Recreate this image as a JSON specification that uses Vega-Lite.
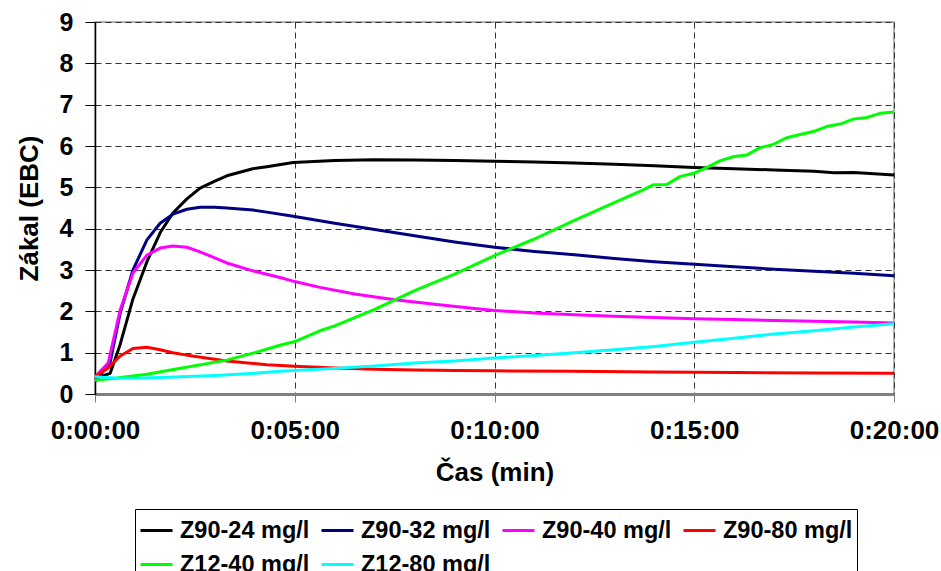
{
  "$schema": "https://vega.github.io/schema/vega-lite/v6.json",
  "width": 799,
  "height": 372,
  "autosize": {"type": "none"},
  "padding": {"left": 95, "top": 22, "right": 47, "bottom": 177},
  "background": "white",
  "config": {
    "font": "Liberation Sans",
    "view": {"stroke": "#999999", "strokeWidth": 1.5}
  },
  "data": {
    "values": [
      {"s": "Z90-24 mg/l", "t": 0, "v": 0.38},
      {"s": "Z90-24 mg/l", "t": 0.13, "v": 0.42},
      {"s": "Z90-24 mg/l", "t": 0.38, "v": 0.5},
      {"s": "Z90-24 mg/l", "t": 0.63, "v": 1.2},
      {"s": "Z90-24 mg/l", "t": 0.95, "v": 2.3},
      {"s": "Z90-24 mg/l", "t": 1.3, "v": 3.2},
      {"s": "Z90-24 mg/l", "t": 1.63, "v": 3.9},
      {"s": "Z90-24 mg/l", "t": 1.95, "v": 4.38},
      {"s": "Z90-24 mg/l", "t": 2.3, "v": 4.72},
      {"s": "Z90-24 mg/l", "t": 2.63, "v": 4.98},
      {"s": "Z90-24 mg/l", "t": 3.0, "v": 5.15},
      {"s": "Z90-24 mg/l", "t": 3.3, "v": 5.28},
      {"s": "Z90-24 mg/l", "t": 3.95, "v": 5.45},
      {"s": "Z90-24 mg/l", "t": 4.3, "v": 5.5},
      {"s": "Z90-24 mg/l", "t": 4.96, "v": 5.6},
      {"s": "Z90-24 mg/l", "t": 6, "v": 5.65},
      {"s": "Z90-24 mg/l", "t": 7, "v": 5.67},
      {"s": "Z90-24 mg/l", "t": 8, "v": 5.66},
      {"s": "Z90-24 mg/l", "t": 9, "v": 5.65},
      {"s": "Z90-24 mg/l", "t": 10, "v": 5.63},
      {"s": "Z90-24 mg/l", "t": 11, "v": 5.61},
      {"s": "Z90-24 mg/l", "t": 12, "v": 5.59},
      {"s": "Z90-24 mg/l", "t": 13, "v": 5.56},
      {"s": "Z90-24 mg/l", "t": 14, "v": 5.52},
      {"s": "Z90-24 mg/l", "t": 15, "v": 5.48},
      {"s": "Z90-24 mg/l", "t": 16, "v": 5.45},
      {"s": "Z90-24 mg/l", "t": 17, "v": 5.42},
      {"s": "Z90-24 mg/l", "t": 18, "v": 5.39},
      {"s": "Z90-24 mg/l", "t": 18.5, "v": 5.35},
      {"s": "Z90-24 mg/l", "t": 19, "v": 5.36},
      {"s": "Z90-24 mg/l", "t": 20, "v": 5.3},

      {"s": "Z90-32 mg/l", "t": 0, "v": 0.3},
      {"s": "Z90-32 mg/l", "t": 0.13, "v": 0.45},
      {"s": "Z90-32 mg/l", "t": 0.38, "v": 0.77},
      {"s": "Z90-32 mg/l", "t": 0.63, "v": 1.96},
      {"s": "Z90-32 mg/l", "t": 0.95, "v": 3.0},
      {"s": "Z90-32 mg/l", "t": 1.3, "v": 3.73},
      {"s": "Z90-32 mg/l", "t": 1.63, "v": 4.13},
      {"s": "Z90-32 mg/l", "t": 1.95, "v": 4.35},
      {"s": "Z90-32 mg/l", "t": 2.3, "v": 4.47},
      {"s": "Z90-32 mg/l", "t": 2.63, "v": 4.52},
      {"s": "Z90-32 mg/l", "t": 3.0, "v": 4.52},
      {"s": "Z90-32 mg/l", "t": 3.3, "v": 4.5},
      {"s": "Z90-32 mg/l", "t": 3.95, "v": 4.45},
      {"s": "Z90-32 mg/l", "t": 4.3, "v": 4.4},
      {"s": "Z90-32 mg/l", "t": 4.96, "v": 4.3},
      {"s": "Z90-32 mg/l", "t": 6, "v": 4.13},
      {"s": "Z90-32 mg/l", "t": 7, "v": 3.98},
      {"s": "Z90-32 mg/l", "t": 8, "v": 3.83},
      {"s": "Z90-32 mg/l", "t": 9, "v": 3.68},
      {"s": "Z90-32 mg/l", "t": 10, "v": 3.55},
      {"s": "Z90-32 mg/l", "t": 11, "v": 3.45},
      {"s": "Z90-32 mg/l", "t": 12, "v": 3.37},
      {"s": "Z90-32 mg/l", "t": 13, "v": 3.28},
      {"s": "Z90-32 mg/l", "t": 14, "v": 3.2},
      {"s": "Z90-32 mg/l", "t": 15, "v": 3.14},
      {"s": "Z90-32 mg/l", "t": 16, "v": 3.08},
      {"s": "Z90-32 mg/l", "t": 17, "v": 3.02},
      {"s": "Z90-32 mg/l", "t": 18, "v": 2.97},
      {"s": "Z90-32 mg/l", "t": 19, "v": 2.92},
      {"s": "Z90-32 mg/l", "t": 20, "v": 2.86},

      {"s": "Z90-40 mg/l", "t": 0, "v": 0.4},
      {"s": "Z90-40 mg/l", "t": 0.13, "v": 0.55},
      {"s": "Z90-40 mg/l", "t": 0.33, "v": 0.75},
      {"s": "Z90-40 mg/l", "t": 0.63, "v": 2.03},
      {"s": "Z90-40 mg/l", "t": 0.95, "v": 2.93},
      {"s": "Z90-40 mg/l", "t": 1.3, "v": 3.36},
      {"s": "Z90-40 mg/l", "t": 1.63, "v": 3.53},
      {"s": "Z90-40 mg/l", "t": 1.95, "v": 3.58},
      {"s": "Z90-40 mg/l", "t": 2.3, "v": 3.55},
      {"s": "Z90-40 mg/l", "t": 2.63, "v": 3.44},
      {"s": "Z90-40 mg/l", "t": 3.3, "v": 3.17},
      {"s": "Z90-40 mg/l", "t": 3.95, "v": 2.98},
      {"s": "Z90-40 mg/l", "t": 4.63, "v": 2.82},
      {"s": "Z90-40 mg/l", "t": 5.0, "v": 2.72},
      {"s": "Z90-40 mg/l", "t": 5.63, "v": 2.58},
      {"s": "Z90-40 mg/l", "t": 6.5, "v": 2.42},
      {"s": "Z90-40 mg/l", "t": 7.5, "v": 2.28},
      {"s": "Z90-40 mg/l", "t": 8.5, "v": 2.17},
      {"s": "Z90-40 mg/l", "t": 9.5, "v": 2.07},
      {"s": "Z90-40 mg/l", "t": 10, "v": 2.02},
      {"s": "Z90-40 mg/l", "t": 11, "v": 1.96},
      {"s": "Z90-40 mg/l", "t": 12, "v": 1.92},
      {"s": "Z90-40 mg/l", "t": 13, "v": 1.88},
      {"s": "Z90-40 mg/l", "t": 14, "v": 1.85},
      {"s": "Z90-40 mg/l", "t": 15, "v": 1.82},
      {"s": "Z90-40 mg/l", "t": 16, "v": 1.8},
      {"s": "Z90-40 mg/l", "t": 17, "v": 1.78},
      {"s": "Z90-40 mg/l", "t": 18, "v": 1.76},
      {"s": "Z90-40 mg/l", "t": 19, "v": 1.74},
      {"s": "Z90-40 mg/l", "t": 20, "v": 1.72},

      {"s": "Z90-80 mg/l", "t": 0, "v": 0.42},
      {"s": "Z90-80 mg/l", "t": 0.13, "v": 0.5},
      {"s": "Z90-80 mg/l", "t": 0.33, "v": 0.63},
      {"s": "Z90-80 mg/l", "t": 0.63, "v": 0.92},
      {"s": "Z90-80 mg/l", "t": 0.95, "v": 1.1},
      {"s": "Z90-80 mg/l", "t": 1.3, "v": 1.13},
      {"s": "Z90-80 mg/l", "t": 1.63, "v": 1.07},
      {"s": "Z90-80 mg/l", "t": 1.95, "v": 1.0},
      {"s": "Z90-80 mg/l", "t": 2.3, "v": 0.94},
      {"s": "Z90-80 mg/l", "t": 3.3, "v": 0.8},
      {"s": "Z90-80 mg/l", "t": 4.3, "v": 0.71},
      {"s": "Z90-80 mg/l", "t": 5, "v": 0.67},
      {"s": "Z90-80 mg/l", "t": 6, "v": 0.63},
      {"s": "Z90-80 mg/l", "t": 7, "v": 0.6},
      {"s": "Z90-80 mg/l", "t": 8, "v": 0.58},
      {"s": "Z90-80 mg/l", "t": 9, "v": 0.57},
      {"s": "Z90-80 mg/l", "t": 10, "v": 0.56},
      {"s": "Z90-80 mg/l", "t": 12, "v": 0.55},
      {"s": "Z90-80 mg/l", "t": 14, "v": 0.53},
      {"s": "Z90-80 mg/l", "t": 16, "v": 0.52},
      {"s": "Z90-80 mg/l", "t": 18, "v": 0.51},
      {"s": "Z90-80 mg/l", "t": 20, "v": 0.5},

      {"s": "Z12-40 mg/l", "t": 0, "v": 0.33},
      {"s": "Z12-40 mg/l", "t": 0.5, "v": 0.38},
      {"s": "Z12-40 mg/l", "t": 1.3, "v": 0.48},
      {"s": "Z12-40 mg/l", "t": 2, "v": 0.6},
      {"s": "Z12-40 mg/l", "t": 3.3, "v": 0.82},
      {"s": "Z12-40 mg/l", "t": 4, "v": 1.0},
      {"s": "Z12-40 mg/l", "t": 4.63, "v": 1.18},
      {"s": "Z12-40 mg/l", "t": 5, "v": 1.27},
      {"s": "Z12-40 mg/l", "t": 5.63, "v": 1.53},
      {"s": "Z12-40 mg/l", "t": 6, "v": 1.65},
      {"s": "Z12-40 mg/l", "t": 7, "v": 2.05},
      {"s": "Z12-40 mg/l", "t": 8, "v": 2.5},
      {"s": "Z12-40 mg/l", "t": 9, "v": 2.9},
      {"s": "Z12-40 mg/l", "t": 10, "v": 3.35},
      {"s": "Z12-40 mg/l", "t": 11, "v": 3.75},
      {"s": "Z12-40 mg/l", "t": 12, "v": 4.2},
      {"s": "Z12-40 mg/l", "t": 13.14, "v": 4.69},
      {"s": "Z12-40 mg/l", "t": 13.64, "v": 4.9},
      {"s": "Z12-40 mg/l", "t": 13.97, "v": 5.06},
      {"s": "Z12-40 mg/l", "t": 14.31, "v": 5.07},
      {"s": "Z12-40 mg/l", "t": 14.64, "v": 5.26},
      {"s": "Z12-40 mg/l", "t": 14.98, "v": 5.34},
      {"s": "Z12-40 mg/l", "t": 15.27, "v": 5.46},
      {"s": "Z12-40 mg/l", "t": 15.64, "v": 5.64},
      {"s": "Z12-40 mg/l", "t": 15.97, "v": 5.74},
      {"s": "Z12-40 mg/l", "t": 16.31, "v": 5.78},
      {"s": "Z12-40 mg/l", "t": 16.65, "v": 5.96},
      {"s": "Z12-40 mg/l", "t": 16.98, "v": 6.04},
      {"s": "Z12-40 mg/l", "t": 17.31, "v": 6.2},
      {"s": "Z12-40 mg/l", "t": 17.65, "v": 6.28},
      {"s": "Z12-40 mg/l", "t": 17.98, "v": 6.35},
      {"s": "Z12-40 mg/l", "t": 18.31, "v": 6.47},
      {"s": "Z12-40 mg/l", "t": 18.65, "v": 6.53},
      {"s": "Z12-40 mg/l", "t": 18.98, "v": 6.65},
      {"s": "Z12-40 mg/l", "t": 19.32, "v": 6.69},
      {"s": "Z12-40 mg/l", "t": 19.65, "v": 6.79},
      {"s": "Z12-40 mg/l", "t": 20, "v": 6.82},

      {"s": "Z12-80 mg/l", "t": 0, "v": 0.42},
      {"s": "Z12-80 mg/l", "t": 0.5, "v": 0.39},
      {"s": "Z12-80 mg/l", "t": 1, "v": 0.38},
      {"s": "Z12-80 mg/l", "t": 2, "v": 0.41},
      {"s": "Z12-80 mg/l", "t": 3, "v": 0.45},
      {"s": "Z12-80 mg/l", "t": 4, "v": 0.5},
      {"s": "Z12-80 mg/l", "t": 4.63, "v": 0.55},
      {"s": "Z12-80 mg/l", "t": 6, "v": 0.62},
      {"s": "Z12-80 mg/l", "t": 7, "v": 0.68},
      {"s": "Z12-80 mg/l", "t": 8, "v": 0.75},
      {"s": "Z12-80 mg/l", "t": 9, "v": 0.8},
      {"s": "Z12-80 mg/l", "t": 10, "v": 0.87},
      {"s": "Z12-80 mg/l", "t": 11, "v": 0.93},
      {"s": "Z12-80 mg/l", "t": 12, "v": 1.0},
      {"s": "Z12-80 mg/l", "t": 13, "v": 1.07},
      {"s": "Z12-80 mg/l", "t": 14, "v": 1.15},
      {"s": "Z12-80 mg/l", "t": 15, "v": 1.25},
      {"s": "Z12-80 mg/l", "t": 16, "v": 1.35},
      {"s": "Z12-80 mg/l", "t": 17, "v": 1.45},
      {"s": "Z12-80 mg/l", "t": 18, "v": 1.53},
      {"s": "Z12-80 mg/l", "t": 19, "v": 1.62},
      {"s": "Z12-80 mg/l", "t": 20, "v": 1.7}
    ]
  },
  "mark": {"type": "line", "strokeJoin": "round", "strokeCap": "butt", "clip": true},
  "encoding": {
    "x": {
      "field": "t",
      "type": "quantitative",
      "scale": {"domain": [0, 20], "nice": false, "zero": false},
      "axis": {
        "title": "Čas (min)",
        "values": [0, 5, 10, 15, 20],
        "labelExpr": "'0:' + (datum.value < 10 ? '0' : '') + datum.value + ':00'",
        "labelFont": "Liberation Sans",
        "labelFontSize": 26,
        "labelFontWeight": "bold",
        "labelColor": "black",
        "labelPadding": 15,
        "labelFlush": false,
        "labelOverlap": false,
        "titleFont": "Liberation Sans",
        "titleFontSize": 26,
        "titleFontWeight": "bold",
        "titleColor": "black",
        "titlePadding": 16,
        "domainColor": "#808080",
        "domainWidth": 3,
        "tickColor": "#808080",
        "tickWidth": 1,
        "tickSize": 8,
        "grid": true,
        "gridColor": "#333333",
        "gridDash": [6, 4],
        "gridWidth": 1
      }
    },
    "y": {
      "field": "v",
      "type": "quantitative",
      "scale": {"domain": [0, 9], "nice": false},
      "axis": {
        "title": "Zákal (EBC)",
        "values": [0, 1, 2, 3, 4, 5, 6, 7, 8, 9],
        "labelFont": "Liberation Sans",
        "labelFontSize": 25,
        "labelFontWeight": "bold",
        "labelColor": "black",
        "labelPadding": 12,
        "labelFlush": false,
        "labelOverlap": false,
        "titleFont": "Liberation Sans",
        "titleFontSize": 26,
        "titleFontWeight": "bold",
        "titleColor": "black",
        "titlePadding": 17,
        "domainColor": "black",
        "domainWidth": 1.5,
        "tickColor": "black",
        "tickWidth": 1,
        "tickSize": 10,
        "grid": true,
        "gridColor": "#333333",
        "gridDash": [6, 4],
        "gridWidth": 1
      }
    },
    "color": {
      "field": "s",
      "type": "nominal",
      "scale": {
        "domain": ["Z90-24 mg/l", "Z90-32 mg/l", "Z90-40 mg/l", "Z90-80 mg/l", "Z12-40 mg/l", "Z12-80 mg/l"],
        "range": ["#000000", "#000080", "#FF00FF", "#FF0000", "#00FF00", "#00FFFF"]
      },
      "legend": {
        "title": null,
        "orient": "none",
        "legendX": 40,
        "legendY": 487,
        "columns": 4,
        "direction": "horizontal",
        "symbolType": "stroke",
        "symbolSize": 1024,
        "symbolStrokeWidth": 3,
        "labelFont": "Liberation Sans",
        "labelFontSize": 23.5,
        "labelFontWeight": "bold",
        "labelColor": "black",
        "labelOffset": 6,
        "labelLimit": 300,
        "columnPadding": 5,
        "rowPadding": 5,
        "padding": 4,
        "strokeColor": "black",
        "fillColor": "white"
      }
    },
    "strokeWidth": {
      "field": "s",
      "type": "nominal",
      "scale": {
        "domain": ["Z90-24 mg/l", "Z90-32 mg/l", "Z90-40 mg/l", "Z90-80 mg/l", "Z12-40 mg/l", "Z12-80 mg/l"],
        "range": [3, 3, 3.5, 3.5, 2, 3.5]
      },
      "legend": null
    },
    "order": {"field": "t", "type": "quantitative"}
  }
}
